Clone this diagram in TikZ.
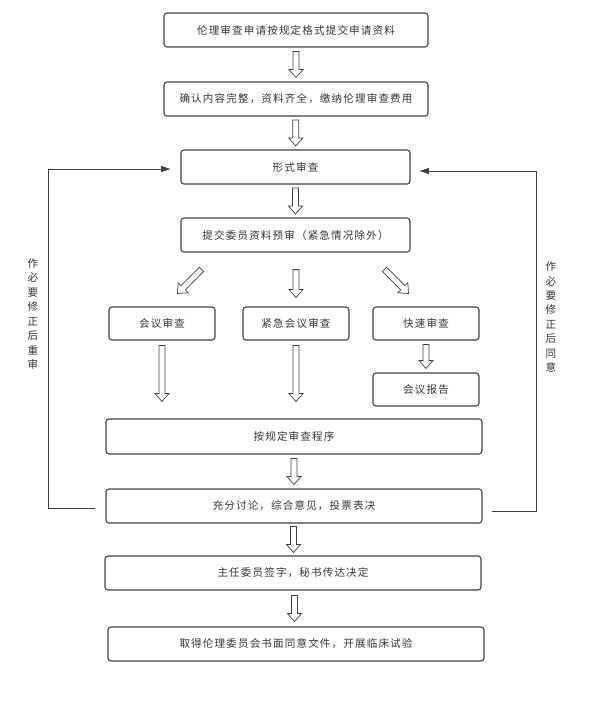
\documentclass[tikz,border=0pt]{standalone}
\usepackage{fontspec}
\setmainfont{Noto Sans CJK SC}[LetterSpace=11]
\usetikzlibrary{arrows.meta,calc}
\tikzset{
  box/.style={draw=black!75,line width=0.9pt,rounded corners=2.5pt,text=black!80,
    font=\fontsize{9}{11}\selectfont,inner sep=0pt,minimum height=1.02cm},
  harrow/.pic={\draw[black!75,line width=0.6pt,fill=white]
    (-#1,-3)--(#1-8,-3)--(#1-8,-7)--(#1,0)--(#1-8,7)--(#1-8,3)--(-#1,3)--cycle;},
  fb/.style={draw=black!75,line width=0.8pt,-{Triangle[length=8pt,width=5pt]}},
  side/.style={text=black!80,font=\fontsize{9}{12.3}\selectfont,align=center}
}
\begin{document}
\begin{tikzpicture}[x=0.03cm,y=0.03cm]
    \useasboundingbox (0,0) rectangle (599,-725);
    \node[box,minimum width=7.92cm] (apply) at (296,-30) {伦理审查申请按规定格式提交申请资料};
    \node[box,minimum width=7.92cm] (check) at (296,-99) {确认内容完整，资料齐全，缴纳伦理审查费用};
    \node[box,minimum width=6.87cm] (form) at (295.5,-167) {形式审查};
    \node[box,minimum width=6.87cm] (pre) at (295.5,-235) {提交委员资料预审（紧急情况除外）};
    \node[box,minimum width=3.18cm,minimum height=0.99cm] (meet) at (162,-323.5) {会议审查};
    \node[box,minimum width=3.18cm,minimum height=0.99cm] (urgent) at (296,-323.5) {紧急会议审查};
    \node[box,minimum width=3.18cm,minimum height=0.99cm] (fast) at (426,-323.5) {快速审查};
    \node[box,minimum width=3.18cm,minimum height=0.99cm] (report) at (426,-389.5) {会议报告};
    \node[box,minimum width=11.28cm,minimum height=1.05cm] (proc) at (294,-436.5) {按规定审查程序};
    \node[box,minimum width=11.28cm] (vote) at (294,-506) {充分讨论，综合意见，投票表决};
    \node[box,minimum width=11.28cm] (sign) at (293,-573) {主任委员签字，秘书传达决定};
    \node[box,minimum width=11.28cm] (final) at (296,-644) {取得伦理委员会书面同意文件，开展临床试验};
    \pic[rotate=-90] at ($(apply.south)!.5!(check.north)$) {harrow=13};
    \pic[rotate=-90] at ($(check.south)!.5!(form.north)$) {harrow=13};
    \pic[rotate=-90] at ($(form.south)!.5!(pre.north)$) {harrow=13};
    \pic[rotate=-135] at ($(meet.north)+(27.5,25)$) {harrow=17};
    \pic[rotate=-90] at ($(urgent.north)+(0,23)$) {harrow=14};
    \pic[rotate=-45] at ($(fast.north)+(-29.5,25)$) {harrow=17};
    \pic[rotate=-90] at ($(meet.south)+(0,-33)$) {harrow=28};
    \pic[rotate=-90] at ($(urgent.south)+(0,-33)$) {harrow=28};
    \pic[rotate=-90] at ($(fast.south)!.5!(report.north)$) {harrow=12};
    \pic[rotate=-90] at ($(proc.south)!.5!(vote.north)$) {harrow=13};
    \pic[rotate=-90] at ($(vote.south)!.5!(sign.north)$) {harrow=13};
    \pic[rotate=-90] at ($(sign.south)!.5!(final.north)$) {harrow=13};
    \draw[fb] ($(vote.west)+(-10,-2)$) -- ++(-47,0) |- ($(form.west)+(-10,-2)$);
    \draw[fb] ($(vote.east)+(9,-5)$) -- ++(45,0) |- ($(form.east)+(9,-4)$);
    \node[side] (redo) at (33,-314) {作\\必\\要\\修\\正\\后\\重\\审};
    \node[side] (agree) at (551,-317) {作\\必\\要\\修\\正\\后\\同\\意};
\end{tikzpicture}
\end{document}
